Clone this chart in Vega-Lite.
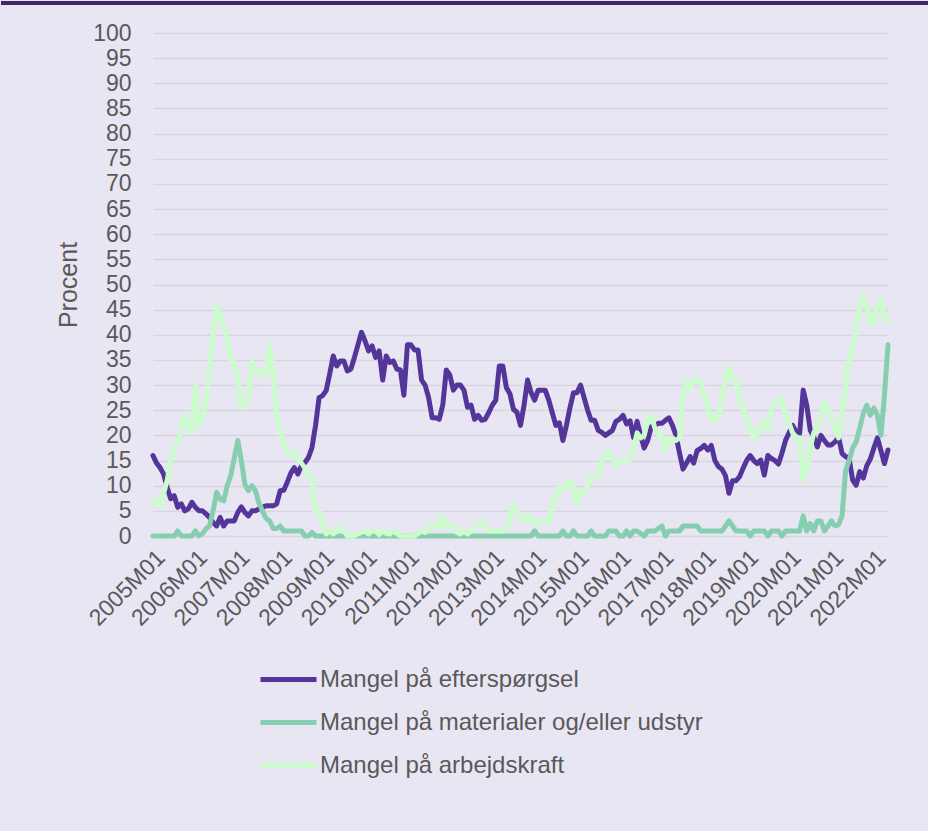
{
  "$schema": "https://vega.github.io/schema/vega-lite/v6.json",
  "padding": {"left": 0, "top": 0, "right": 0, "bottom": 120},
  "background": "#E9E6F4",
  "config": {"view": {"stroke": null}, "font": "Liberation Sans"},
  "spacing": 16,
  "align": "none",
  "bounds": "full",
  "resolve": {"scale": {"color": "independent", "y": "independent"}, "legend": {"color": "independent"}},
  "vconcat": [
    {
      "width": 777,
      "height": 4,
      "view": {"fill": "#3F2868", "stroke": null},
      "mark": {"type": "rule", "opacity": 0},
      "encoding": {
        "y": {
          "datum": 0.5, "type": "quantitative",
          "scale": {"domain": [0, 1]},
          "axis": {"orient": "left", "values": [0.5], "labels": false, "ticks": true, "tickSize": 150, "tickWidth": 4, "tickColor": "#3F2868", "tickCap": "square", "translate": 0, "grid": false, "title": null, "domain": false}
        }
      }
    },
    {
      "width": 735,
      "height": 503,
      "data": {"values": [
        {"m":"2005M01","E":16,"M":0,"A":7},{"m":"2005M02","E":14.5,"M":0,"A":7},{"m":"2005M03","E":13.6,"M":0,"A":6},{"m":"2005M04","E":12.3,"M":0,"A":8.5},{"m":"2005M05","E":9.7,"M":0,"A":11},{"m":"2005M06","E":7.4,"M":0,"A":15},{"m":"2005M07","E":8,"M":0,"A":17},{"m":"2005M08","E":5.7,"M":1,"A":18.5},{"m":"2005M09","E":6.4,"M":0,"A":21},{"m":"2005M10","E":5,"M":0,"A":24},{"m":"2005M11","E":5.4,"M":0,"A":22},{"m":"2005M12","E":6.7,"M":0,"A":20.5},
        {"m":"2006M01","E":5.7,"M":1,"A":30},{"m":"2006M02","E":5,"M":0,"A":22},{"m":"2006M03","E":5,"M":0.5,"A":24},{"m":"2006M04","E":4.4,"M":1.4,"A":26},{"m":"2006M05","E":3.7,"M":2,"A":34},{"m":"2006M06","E":2.7,"M":5,"A":40},{"m":"2006M07","E":2,"M":8.7,"A":46},{"m":"2006M08","E":3.7,"M":7.3,"A":44},{"m":"2006M09","E":2,"M":7,"A":41.5},{"m":"2006M10","E":3,"M":10,"A":39},{"m":"2006M11","E":3,"M":12,"A":35},{"m":"2006M12","E":3,"M":15.5,"A":34.5},
        {"m":"2007M01","E":4.7,"M":19,"A":31},{"m":"2007M02","E":5.8,"M":15,"A":25.5},{"m":"2007M03","E":4.7,"M":10.3,"A":26},{"m":"2007M04","E":4,"M":9,"A":28},{"m":"2007M05","E":5,"M":10,"A":34.5},{"m":"2007M06","E":5,"M":9,"A":33},{"m":"2007M07","E":5.4,"M":6.5,"A":33},{"m":"2007M08","E":5.7,"M":5,"A":32},{"m":"2007M09","E":6,"M":3.5,"A":32},{"m":"2007M10","E":6,"M":3,"A":38},{"m":"2007M11","E":6,"M":1.5,"A":32},{"m":"2007M12","E":6.4,"M":1.5,"A":24},
        {"m":"2008M01","E":9,"M":2,"A":20.5},{"m":"2008M02","E":9.1,"M":1,"A":19},{"m":"2008M03","E":10.7,"M":1,"A":16.5},{"m":"2008M04","E":12.5,"M":1,"A":16},{"m":"2008M05","E":13.6,"M":1,"A":16.5},{"m":"2008M06","E":12.3,"M":1,"A":15.5},{"m":"2008M07","E":14,"M":1,"A":14.5},{"m":"2008M08","E":14.6,"M":0,"A":13.5},{"m":"2008M09","E":15.6,"M":0,"A":12.5},{"m":"2008M10","E":17.6,"M":0.7,"A":11},{"m":"2008M11","E":22,"M":0,"A":5},{"m":"2008M12","E":27.5,"M":0,"A":5},
        {"m":"2009M01","E":27.9,"M":0,"A":2.5},{"m":"2009M02","E":28.9,"M":0,"A":0.4},{"m":"2009M03","E":32.2,"M":0,"A":1},{"m":"2009M04","E":35.8,"M":0,"A":0.4},{"m":"2009M05","E":33.8,"M":0,"A":1},{"m":"2009M06","E":34.8,"M":0,"A":1.7},{"m":"2009M07","E":34.8,"M":0,"A":1},{"m":"2009M08","E":32.8,"M":0,"A":0},{"m":"2009M09","E":33.2,"M":0,"A":0},{"m":"2009M10","E":35.5,"M":0,"A":0},{"m":"2009M11","E":38,"M":0,"A":0.5},{"m":"2009M12","E":40.5,"M":0,"A":0.7},
        {"m":"2010M01","E":38.8,"M":0,"A":1},{"m":"2010M02","E":36.8,"M":0,"A":0.4},{"m":"2010M03","E":37.8,"M":0,"A":1},{"m":"2010M04","E":35.5,"M":0,"A":1},{"m":"2010M05","E":36.8,"M":0,"A":0.3},{"m":"2010M06","E":31,"M":0,"A":1},{"m":"2010M07","E":35.8,"M":0,"A":0.5},{"m":"2010M08","E":34.5,"M":0,"A":0.4},{"m":"2010M09","E":34.8,"M":0,"A":1},{"m":"2010M10","E":33.2,"M":0,"A":0.5},{"m":"2010M11","E":33,"M":0,"A":0},{"m":"2010M12","E":28,"M":0,"A":0},
        {"m":"2011M01","E":38,"M":0,"A":0},{"m":"2011M02","E":38,"M":0,"A":0},{"m":"2011M03","E":37,"M":0,"A":0},{"m":"2011M04","E":37,"M":0,"A":0.5},{"m":"2011M05","E":31,"M":0,"A":1},{"m":"2011M06","E":30,"M":0,"A":0.7},{"m":"2011M07","E":27.5,"M":0,"A":1.4},{"m":"2011M08","E":23.5,"M":0,"A":2},{"m":"2011M09","E":23.5,"M":0,"A":2},{"m":"2011M10","E":23.2,"M":0,"A":2},{"m":"2011M11","E":26,"M":0,"A":4},{"m":"2011M12","E":33,"M":0,"A":1.7},
        {"m":"2012M01","E":32,"M":0,"A":2.4},{"m":"2012M02","E":29,"M":0,"A":1.7},{"m":"2012M03","E":30,"M":0,"A":0.7},{"m":"2012M04","E":30,"M":0,"A":0.4},{"m":"2012M05","E":29,"M":0,"A":1},{"m":"2012M06","E":25.6,"M":0,"A":0.4},{"m":"2012M07","E":26,"M":0,"A":1},{"m":"2012M08","E":23.2,"M":0,"A":1.4},{"m":"2012M09","E":24,"M":0,"A":2.4},{"m":"2012M10","E":23,"M":0,"A":3},{"m":"2012M11","E":23.2,"M":0,"A":2},{"m":"2012M12","E":24.5,"M":0,"A":1},
        {"m":"2013M01","E":26,"M":0,"A":1},{"m":"2013M02","E":27,"M":0,"A":1},{"m":"2013M03","E":33.8,"M":0,"A":1},{"m":"2013M04","E":33.8,"M":0,"A":1},{"m":"2013M05","E":29.5,"M":0,"A":1.5},{"m":"2013M06","E":28.3,"M":0,"A":3.7},{"m":"2013M07","E":25.2,"M":0,"A":6},{"m":"2013M08","E":24.6,"M":0,"A":4.7},{"m":"2013M09","E":22,"M":0,"A":3.7},{"m":"2013M10","E":26,"M":0,"A":3},{"m":"2013M11","E":31,"M":0,"A":4},{"m":"2013M12","E":28.5,"M":0,"A":3.4},
        {"m":"2014M01","E":27,"M":1,"A":2.4},{"m":"2014M02","E":29,"M":0,"A":3},{"m":"2014M03","E":29,"M":0,"A":3},{"m":"2014M04","E":29,"M":0,"A":3},{"m":"2014M05","E":27,"M":0,"A":2.7},{"m":"2014M06","E":24.5,"M":0,"A":6},{"m":"2014M07","E":22,"M":0,"A":8.5},{"m":"2014M08","E":22.5,"M":0,"A":9.7},{"m":"2014M09","E":19,"M":1,"A":9},{"m":"2014M10","E":22,"M":0,"A":10},{"m":"2014M11","E":25.5,"M":0,"A":11},{"m":"2014M12","E":28.5,"M":1,"A":9.7},
        {"m":"2015M01","E":28.5,"M":0,"A":6.4},{"m":"2015M02","E":30,"M":0,"A":9},{"m":"2015M03","E":27.5,"M":0,"A":8.7},{"m":"2015M04","E":25,"M":0,"A":10},{"m":"2015M05","E":23,"M":1,"A":11.5},{"m":"2015M06","E":23,"M":0,"A":11.5},{"m":"2015M07","E":21,"M":0,"A":12},{"m":"2015M08","E":20.6,"M":0,"A":14.6},{"m":"2015M09","E":20,"M":0,"A":16.3},{"m":"2015M10","E":20.5,"M":1,"A":17},{"m":"2015M11","E":21,"M":1,"A":15.3},{"m":"2015M12","E":22.8,"M":1,"A":14},
        {"m":"2016M01","E":23.2,"M":0,"A":14.5},{"m":"2016M02","E":24,"M":0,"A":15},{"m":"2016M03","E":22.3,"M":1,"A":15},{"m":"2016M04","E":22.9,"M":0,"A":15.3},{"m":"2016M05","E":19.6,"M":1,"A":17.5},{"m":"2016M06","E":22.8,"M":1,"A":20.5},{"m":"2016M07","E":20,"M":0.5,"A":19.5},{"m":"2016M08","E":17.5,"M":0,"A":20},{"m":"2016M09","E":19,"M":1,"A":23},{"m":"2016M10","E":21.7,"M":1,"A":24},{"m":"2016M11","E":22,"M":1,"A":21.5},{"m":"2016M12","E":22.4,"M":1.5,"A":20.5},
        {"m":"2017M01","E":22.4,"M":2,"A":19.7},{"m":"2017M02","E":23,"M":0,"A":17},{"m":"2017M03","E":23.5,"M":1,"A":19},{"m":"2017M04","E":22,"M":1,"A":19.5},{"m":"2017M05","E":20,"M":1,"A":19},{"m":"2017M06","E":16.5,"M":1,"A":19.5},{"m":"2017M07","E":13.3,"M":2,"A":28},{"m":"2017M08","E":14.5,"M":2,"A":30.5},{"m":"2017M09","E":15.8,"M":2,"A":29.5},{"m":"2017M10","E":14.5,"M":2,"A":31},{"m":"2017M11","E":17,"M":2,"A":30.8},{"m":"2017M12","E":17.4,"M":1,"A":30.5},
        {"m":"2018M01","E":18,"M":1,"A":28},{"m":"2018M02","E":17.1,"M":1,"A":25},{"m":"2018M03","E":18,"M":1,"A":23},{"m":"2018M04","E":15,"M":1,"A":24},{"m":"2018M05","E":13.8,"M":1,"A":23.4},{"m":"2018M06","E":13.3,"M":1,"A":27.7},{"m":"2018M07","E":12,"M":2,"A":31},{"m":"2018M08","E":8.5,"M":3,"A":33.5},{"m":"2018M09","E":11,"M":2,"A":31.3},{"m":"2018M10","E":11,"M":1,"A":30.7},{"m":"2018M11","E":11.8,"M":1,"A":27},{"m":"2018M12","E":13.5,"M":1,"A":25.2},
        {"m":"2019M01","E":15,"M":1,"A":23.5},{"m":"2019M02","E":16,"M":0,"A":21.5},{"m":"2019M03","E":15,"M":1,"A":19.5},{"m":"2019M04","E":14.4,"M":1,"A":20.5},{"m":"2019M05","E":15.1,"M":1,"A":21.7},{"m":"2019M06","E":12.1,"M":1,"A":23},{"m":"2019M07","E":16,"M":0,"A":21.1},{"m":"2019M08","E":15.4,"M":1,"A":25.4},{"m":"2019M09","E":15,"M":1,"A":26.4},{"m":"2019M10","E":14.3,"M":1,"A":27},{"m":"2019M11","E":16.5,"M":0,"A":27},{"m":"2019M12","E":19,"M":1,"A":24.1},
        {"m":"2020M01","E":20.5,"M":1,"A":22.5},{"m":"2020M02","E":22,"M":1,"A":20.5},{"m":"2020M03","E":20.7,"M":1,"A":19.7},{"m":"2020M04","E":20.4,"M":1,"A":19.5},{"m":"2020M05","E":29,"M":4,"A":11.1},{"m":"2020M06","E":26,"M":1,"A":13},{"m":"2020M07","E":21,"M":2.5,"A":17.5},{"m":"2020M08","E":19.7,"M":1,"A":20.5},{"m":"2020M09","E":17.7,"M":3,"A":21.7},{"m":"2020M10","E":20,"M":3,"A":23.5},{"m":"2020M11","E":19,"M":1,"A":26.5},{"m":"2020M12","E":18.1,"M":2,"A":25.5},
        {"m":"2021M01","E":18.1,"M":3,"A":23.5},{"m":"2021M02","E":18.7,"M":2,"A":21},{"m":"2021M03","E":19.7,"M":2.2,"A":19.5},{"m":"2021M04","E":16.4,"M":4,"A":25},{"m":"2021M05","E":15.8,"M":13,"A":30},{"m":"2021M06","E":15.4,"M":15,"A":35},{"m":"2021M07","E":11.1,"M":17.5,"A":37.6},{"m":"2021M08","E":10.1,"M":18.7,"A":41},{"m":"2021M09","E":12.8,"M":21.5,"A":46},{"m":"2021M10","E":11.5,"M":24.4,"A":47.5},{"m":"2021M11","E":14,"M":26,"A":45.5},{"m":"2021M12","E":15.3,"M":24,"A":42},
        {"m":"2022M01","E":17.5,"M":25.5,"A":42.5},{"m":"2022M02","E":19.5,"M":24,"A":45.5},{"m":"2022M03","E":17,"M":20,"A":46.9},{"m":"2022M04","E":14.4,"M":28,"A":43.2},{"m":"2022M05","E":17.1,"M":38,"A":42.9}
      ]},
      "transform": [{"fold": ["E", "M", "A"], "as": ["serie", "pct"]}],
      "resolve": {"axis": {"y": "independent"}},
      "layer": [
        {
          "mark": {"type": "line", "strokeWidth": 5, "strokeJoin": "round", "strokeCap": "round"},
          "encoding": {
            "x": {
              "field": "m", "type": "ordinal",
              "scale": {"type": "point", "padding": 0},
              "axis": {
                "values": ["2005M01","2006M01","2007M01","2008M01","2009M01","2010M01","2011M01","2012M01","2013M01","2014M01","2015M01","2016M01","2017M01","2018M01","2019M01","2020M01","2021M01","2022M01"],
                "labelAngle": -45, "labelFontSize": 23, "labelColor": "#595959", "labelFont": "Liberation Sans",
                "labelOverlap": false, "labelFlush": false, "ticks": false, "domain": false, "grid": false,
                "title": null, "labelPadding": 10
              }
            },
            "y": {
              "field": "pct", "type": "quantitative",
              "scale": {"domain": [0, 100], "nice": false},
              "axis": {
                "values": [0,5,10,15,20,25,30,35,40,45,50,55,60,65,70,75,80,85,90,95,100],
                "labelFontSize": 23, "labelColor": "#595959", "labelFont": "Liberation Sans",
                "ticks": false, "domain": false, "gridColor": "#D9D5DF", "gridWidth": 1.5,
                "title": "Procent", "titleFontSize": 25, "titleFontWeight": "normal", "titleColor": "#595959",
                "titleFont": "Liberation Sans", "labelPadding": 22, "titlePadding": 11
              }
            },
            "color": {
              "field": "serie", "type": "nominal",
              "scale": {"domain": ["E", "M", "A"], "range": ["#54369A", "#87CEB1", "#CBFCCB"]},
              "legend": {
                "orient": "none", "legendX": 105, "legendY": 616, "direction": "vertical", "title": null,
                "symbolType": "stroke", "symbolSize": 3136, "symbolStrokeWidth": 5, "rowPadding": -2,
                "labelFontSize": 24, "labelColor": "#595959", "labelFont": "Liberation Sans", "labelOffset": 1, "labelLimit": 0,
                "labelExpr": "datum.label === 'E' ? 'Mangel på efterspørgsel' : datum.label === 'M' ? 'Mangel på materialer og/eller udstyr' : 'Mangel på arbejdskraft'"
              }
            }
          }
        },
        {
          "transform": [{"filter": "datum.m === '2005M01'"}],
          "mark": {"type": "rule", "opacity": 0},
          "encoding": {
            "y": {
              "field": "pct", "type": "quantitative",
              "scale": {"domain": [0, 100], "nice": false},
              "axis": {"orient": "left", "offset": 151, "labels": false, "ticks": false, "grid": false, "title": null, "domain": true, "domainOpacity": 0, "domainWidth": 2}
            }
          }
        }
      ]
    }
  ]
}
